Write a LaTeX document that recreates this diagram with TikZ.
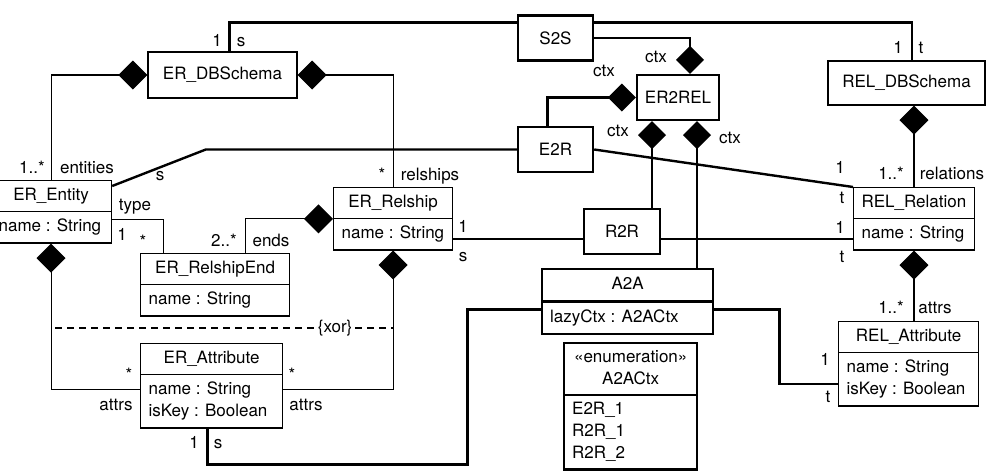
\documentclass[tikz,border=0pt]{standalone}
\usepackage{fontspec}
\setmainfont{TeX Gyre Heros}
\usepackage{tikz}
\usetikzlibrary{shapes}
\usetikzlibrary{arrows.meta}

\newcommand{\umlfont}{\fontsize{17pt}{22pt}\selectfont}
\newcommand{\attrs}[1]{\begin{tabular}{@{}l@{}}#1\end{tabular}}
\newcommand{\heads}[1]{\begin{tabular}{@{}c@{}}#1\end{tabular}}

\begin{document}
\begin{tikzpicture}[x=1pt,y=-1pt]
                \tikzset{cls/.style = {shape=rectangle split,rectangle split parts=2,draw,line width=1.2pt,font=\umlfont,inner xsep=8pt,inner ysep=4pt,rectangle split part align={center,left},anchor=north west}}
                \tikzset{box/.style = {shape=rectangle,draw,line width=1.2pt,font=\umlfont}}
                \tikzset{mapbox/.style = {box,line width=2.4pt,minimum width=75pt,minimum height=45pt}}
                \tikzset{mapcls/.style = {cls,line width=2.4pt}}
                \tikzset{lbl/.style = {font=\umlfont,inner sep=0pt,anchor=base}}
                \tikzset{assoc/.style = {line width=1.2pt}}
                \tikzset{part/.style = {{Diamond[length=29pt,width=29pt]}-,line width=1.2pt}}
                \tikzset{map/.style = {line width=2.4pt}}
                \tikzset{mappart/.style = {{Diamond[length=28pt,width=28pt]}-,line width=2.4pt}}
                \tikzset{xorline/.style = {line width=1.2pt,dash pattern=on 7pt off 5pt}}

                \useasboundingbox (0,0) rectangle (991,471);

                \node[box,minimum width=149pt,minimum height=46pt] (erdb) at (222.5,75) {ER\_DBSchema};
                \node[box,minimum width=157pt,minimum height=44pt] (reldb) at (906.5,83) {REL\_DBSchema};
                \node[cls,minimum width=121pt] (ent) at (-10,180) {\strut ER\_Entity\nodepart{second}\strut name : String};
                \node[cls,minimum width=119pt] (rel) at (333,187) {\strut ER\_Relship\nodepart{second}\strut name : String};
                \node[cls,minimum width=149pt] (rend) at (140,253) {\strut ER\_RelshipEnd\nodepart{second}\strut name : String};
                \node[cls,minimum width=142pt] (eatt) at (140,343) {\strut ER\_Attribute\nodepart{second}\attrs{name : String\\isKey : Boolean}};
                \node[cls,minimum width=117pt] (rrel) at (853,187) {\strut REL\_Relation\nodepart{second}\strut name : String};
                \node[cls,minimum width=140pt] (ratt) at (838,321) {\strut REL\_Attribute\nodepart{second}\attrs{name : String\\isKey : Boolean}};

                \node[mapbox] (s2s) at (555.5,38) {S2S};
                \node[mapbox,minimum width=82pt] (er2rel) at (678,97.5) {ER2REL};
                \node[mapbox] (e2r) at (555.5,149.5) {E2R};
                \node[mapbox,minimum width=76pt] (r2r) at (622,231.5) {R2R};
                \node[mapcls,minimum width=171pt] (a2a) at (541,268) {\strut A2A\nodepart{second}\strut lazyCtx : A2ACtx};
                \node[mapcls,minimum width=133pt,inner ysep=3pt] (actx) at (563,341.5) {\heads{«enumeration»\\A2ACtx}\nodepart{second}\attrs{E2R\_1\\R2R\_1\\R2R\_2}};

                \coordinate (xorL) at (55,328);
                \coordinate (xorR) at (392.5,328);
                \coordinate (r2rL) at ([yshift=-7.5pt]r2r.west);
                \coordinate (a2aL) at ([yshift=-8pt]a2a.text split west);
                \coordinate (a2aR) at ([yshift=-8pt]a2a.text split east);

                \draw[part] (erdb.west) -| (ent.north);
                \draw[part] (erdb.east) -| (rel.north);
                \draw[assoc] ([yshift=-8pt]ent.east) -| ([xshift=-52pt]rend.north);
                \draw[part] (rel.text split west) -| ([xshift=30pt]rend.north);
                \draw[part] (ent.south) |- ([yshift=-4pt]eatt.west);
                \draw[part] (rel.south) |- ([yshift=-4pt]eatt.east);
                \draw[xorline] (xorL) -- node[pos=.83,fill=white,font=\umlfont,inner sep=2pt] (xor) {\{xor\}} (xorR);
                \draw[part] (rrel.north |- reldb.south) -- (rrel.north);
                \draw[part] (rrel.south) -- (rrel.south |- ratt.north);

                \draw[map] ([xshift=7pt]erdb.north) |- ([yshift=-8pt]s2s.north west);
                \draw[map] ([yshift=-8pt]s2s.north east) -| ([xshift=5.5pt]reldb.north);
                \draw[mappart] ([xshift=12pt]er2rel.north) |- (s2s.east);
                \draw[mappart] (er2rel.west) -| ([xshift=-8pt]e2r.north);
                \draw[mappart] ([xshift=-26pt]er2rel.south) -- ([xshift=-26pt]er2rel.south |- r2r.north);
                \draw[mappart] ([xshift=19pt]er2rel.south) -- ([xshift=19pt]er2rel.south |- a2a.north);
                \draw[map] (e2r.west) -- ++(-311,0) -- ([yshift=-6pt]ent.north east);
                \draw[map] (e2r.east) -- (rrel.north west);
                \draw[map] (r2rL) -- (rel.east |- r2rL);
                \draw[map] (r2rL -| r2r.east) -- (rrel.west |- r2rL);
                \draw[map] ([xshift=-4pt]eatt.south) |- ++(260,36) |- (a2aL);
                \draw[map] (a2aR) -- ++(65,0) |- ([yshift=-20pt]ratt.west);

                \node[lbl] (m1) at (217,46) {1};
                \node[lbl] (m2) at (241,46) {s};
                \node[lbl] (m3) at (32,173) {1..*};
                \node[lbl] (m4) at (87,173) {entities};
                \node[lbl] (m5) at (160,180) {s};
                \node[lbl] (m6) at (382,180) {*};
                \node[lbl] (m7) at (430,180) {relships};
                \node[lbl] (m8) at (135,210) {type};
                \node[lbl] (m9) at (122,240) {1};
                \node[lbl] (m10) at (143,247) {*};
                \node[lbl] (m11) at (224,246) {2..*};
                \node[lbl] (m12) at (271,246) {ends};
                \node[lbl] (m13) at (463,232) {1};
                \node[lbl] (m14) at (463,261) {s};
                \node[lbl] (m15) at (129,380) {*};
                \node[lbl] (m16) at (116,410) {attrs};
                \node[lbl] (m17) at (292,380) {*};
                \node[lbl] (m18) at (306,410) {attrs};
                \node[lbl] (m19) at (194,448) {1};
                \node[lbl] (m20) at (218,448) {s};
                \node[lbl] (m21) at (656,62) {ctx};
                \node[lbl] (m22) at (604,76) {ctx};
                \node[lbl] (m23) at (618,136) {ctx};
                \node[lbl] (m24) at (730,143) {ctx};
                \node[lbl] (m25) at (898,53) {1};
                \node[lbl] (m26) at (921,53) {t};
                \node[lbl] (m27) at (891,179) {1..*};
                \node[lbl] (m28) at (952,179) {relations};
                \node[lbl] (m29) at (840,173) {1};
                \node[lbl] (m30) at (842,203) {t};
                \node[lbl] (m31) at (840,233) {1};
                \node[lbl] (m32) at (842,262) {t};
                \node[lbl] (m33) at (891,313) {1..*};
                \node[lbl] (m34) at (935,313) {attrs};
                \node[lbl] (m35) at (825,365) {1};
                \node[lbl] (m36) at (828,402) {t};

\end{tikzpicture}
\end{document}
